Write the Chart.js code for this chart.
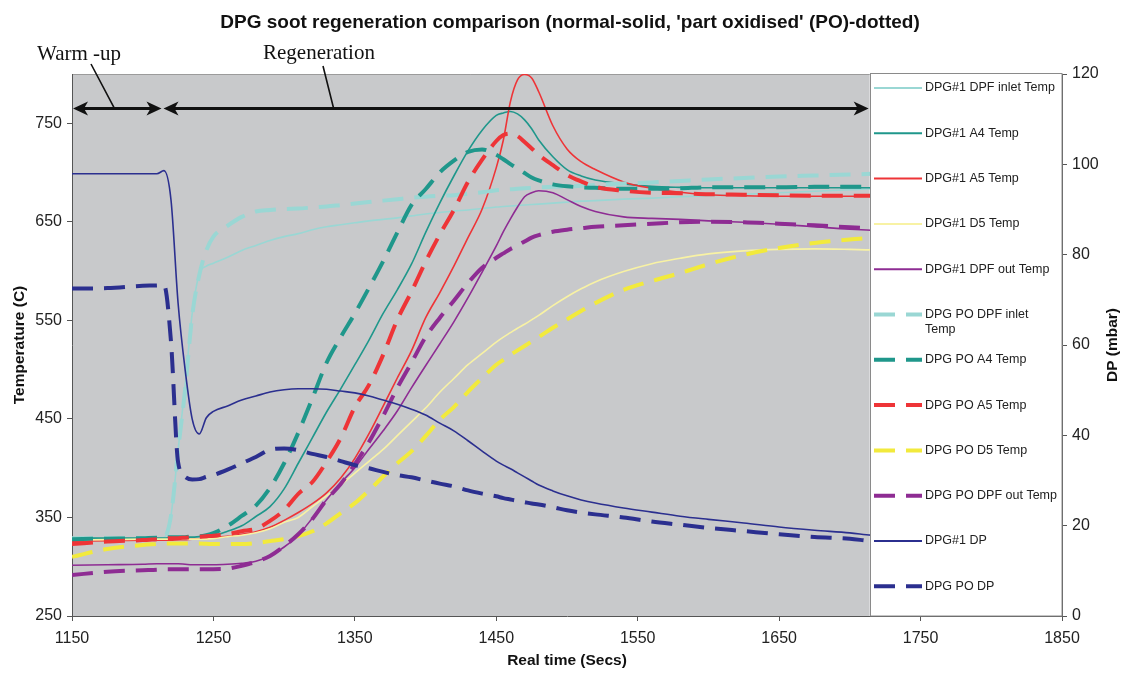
<!DOCTYPE html>
<html>
<head>
<meta charset="utf-8">
<script src="https://cdn.jsdelivr.net/npm/chart.js"></script>
<style>
html,body{margin:0;padding:0;background:#fff;}
#wrap{width:1121px;height:673px;position:relative;}
canvas{display:block;}
</style>
</head>
<body>
<div id="wrap"><canvas id="c" width="1121" height="673"></canvas></div>
<script>
// ---------- DATA ----------
const times = [1150,1175,1200,1210,1215,1220,1225,1230,1235,1240,
               1245,1250,1260,1270,1280,1290,1300,1310,1320,1330,
               1340,1350,1360,1370,1380,1390,1400,1410,1420,1430,
               1440,1450,1455,1460,1465,1470,1475,1480,1490,1500,
               1510,1520,1540,1560,1580,1600,1625,1650,1675,1700,
               1715,1850];

const dpg1InletTemp = [329,329,329,329,329.5,352,418,484,557,597,
                       605,608,614,621,626,631,635,638,642,645,
                       647,649,651,652.5,654,656,658,659.5,661,662,
                       663.5,665,665.5,666,666.5,667,667.5,668,669,670,
                       671,671.5,673,674,675.5,676.5,678,679.5,681,682.5,
                       683.5,686];
const dpg1A4Temp = [329,329,329,329,329,329.5,330,330,330,330.5,
                    331,331.5,336,341.5,351,361,379,405,431,457,
                    480.5,505,530,557,581,607,639,669,696.5,722,
                    743,758,760.5,762,759.5,753.5,744.5,733,716,703,
                    696.5,692.5,688.5,686,685,684.5,684.5,684.5,684.5,684.5,
                    684.5,686.5];
const dpg1A5Temp = [326,326.5,327,327,327,327,327.5,327.5,328,328,
                    328.5,329.5,331,333,335.5,340,347,355,364,375,
                    390,410,435,463,491.5,519,552.5,578,605,634,
                    663,705,733,772,794,799.5,796,782,747.5,724,
                    711,703,690.5,684,680,677.5,676.5,676,676,676,
                    676,676.5];
const dpg1D5Temp = [327,327.5,328,328,328,328,328,328,328,328,
                    328,328.5,330.5,332,334.5,338.5,345,350,361,372,
                    383,395,407,419,433,447,461,477,491,505,
                    516.5,528,533,537.5,542,546,550.5,555,565,574,
                    582,589,599.5,607.5,613,617.5,620.5,622,622.5,622,
                    621.5,622.5];
const dpg1OutTemp = [301.5,302,302.5,303,303,303,303,302.5,302,302,
                     302,302,302.5,303.5,305.5,311,320,332,349.5,368,
                     385,400.5,419.5,438,458,481.5,504,526,548.5,573,
                     599,625.5,640,653,665,675.5,679.5,681.5,679.5,672.5,
                     665.5,660.5,655,653.5,652.5,651,649.5,647.5,645,642.5,
                     641.5,639];
const poInletTemp = [329,329,329,329,329.5,352,418,480,555,596,
                     621,635,646,655,660.5,662,663,663.5,664.5,665.5,
                     667,668.5,670,671.5,673,674.5,675.5,676.5,677,678.5,
                     680,682,682.5,683,683.5,684,684.5,685,685.5,686,
                     686.5,687.5,689,690,691.5,693,694.5,696,697,698,
                     698.7,706];
const poA4Temp = [328,328.5,329,329.5,329.5,330,330,330,331,331,
                  332,334,341.5,351.5,362,380,405,436,471,507,
                  533,557,583,610,639,667,683,700,712,721,
                  723.5,718,713.5,708.5,704,699.5,695,692,688,686,
                  685,684.5,683.5,683.5,684,685,685,685,685.5,685.5,
                  685.5,689];
const poA5Temp = [323,325.5,327,328,328.5,329,329,329.5,330,330.5,
                  331,331.5,333,336,338.5,346.5,357.5,374,386,406.5,
                  430.5,462,484.5,515,550.5,579,609.5,637,662,690.5,
                  713,732,738,739.5,737,731,724.5,718,707.5,697.7,
                  691,685.5,681.5,679.5,679,678,677.5,677,676.5,676.5,
                  676.5,676.5];
const poD5Temp = [310,318,322,323,323.5,323.5,323.5,323.5,323.5,323.5,
                  323.3,323,323,323,324,326,328,331,336,344,
                  354.5,364.5,377.5,391.5,405,417,432.5,449,462,477.5,
                  491.5,505,510,515,519.5,524,528.5,533,542.5,551,
                  559.5,567.5,581,590,598,607,616.5,623.5,628.5,632,
                  633.5,632];
const poOutTemp = [291.5,295,296.5,297,297.5,297.5,297.5,297.5,297.5,297.5,
                   297.5,297.5,298,301,305,311,321,333,348.5,368,
                   384,404,426.5,453,481.5,507,533,552.5,570,588,
                   603.5,613.5,618,622.5,626,630,634,636.5,640,642,
                   643.5,645,646.5,648,649.5,650,649.5,648,646.5,644.5,
                   643.5,637];
const dpg1DP = [97.9,97.9,97.9,97.9,98.6,92.1,69.3,54.5,43.6,40.3,
                43.9,45.3,46.5,47.8,48.7,49.6,50.1,50.3,50.3,50.2,
                49.8,49.4,48.7,47.8,46.9,45.8,44.5,42.7,41.0,38.8,
                36.5,34.3,33.4,32.6,31.7,30.8,29.9,29.0,27.7,26.6,
                25.7,25.0,23.9,23.0,22.1,21.4,20.6,19.7,19.0,18.4,
                17.9,15.2];
const poDP = [72.5,72.6,73.1,73.2,73.3,60.7,34.1,30.8,30.2,30.3,
              30.8,31.2,32.4,33.8,35.2,36.8,37.1,36.7,35.9,35.2,
              34.3,33.4,32.7,31.9,31.2,30.7,30.0,29.3,28.7,27.8,
              27.1,26.5,26.1,25.8,25.5,25.2,24.9,24.7,24.1,23.4,
              22.9,22.5,21.8,20.9,20.2,19.5,18.8,18.1,17.5,17.1,
              16.6,15.0];

const seriesNames = ['DPG#1 DPF inlet Temp','DPG#1 A4 Temp','DPG#1 A5 Temp','DPG#1 D5 Temp','DPG#1 DPF out Temp',
                     'DPG PO DPF inlet Temp','DPG PO A4 Temp','DPG PO A5 Temp','DPG PO D5 Temp','DPG PO DPF out Temp',
                     'DPG#1 DP','DPG PO DP'];
const legendLines = [['DPG#1 DPF inlet Temp'],['DPG#1 A4 Temp'],['DPG#1 A5 Temp'],['DPG#1 D5 Temp'],['DPG#1 DPF out Temp'],
                     ['DPG PO DPF inlet','Temp'],['DPG PO A4 Temp'],['DPG PO A5 Temp'],['DPG PO D5 Temp'],['DPG PO DPF out Temp'],
                     ['DPG#1 DP'],['DPG PO DP']];
const timeTicks = [1150,1250,1350,1450,1550,1650,1750,1850];
const tempTicks = [250,350,450,550,650,750];
const dpTicks = [0,20,40,60,80,100,120];

// annotation values (time / temperature units)
const warmUpStart = 1150, regenStart = 1214, regenEnd = 1714, arrowTemp = 765;
const legendStartTime = 1714;

// ---------- STYLE ----------
const FONT = "'Liberation Sans', Arial, sans-serif";
const SERIF = "'Liberation Serif', 'Times New Roman', serif";
const AXIS_COLOR = '#555555';
const PLOT_BG = '#c8c9cb';
const DASH = [21, 11];
const seriesData = [dpg1InletTemp,dpg1A4Temp,dpg1A5Temp,dpg1D5Temp,dpg1OutTemp,
                    poInletTemp,poA4Temp,poA5Temp,poD5Temp,poOutTemp,dpg1DP,poDP];
const seriesColors = ['#9ad7d4','#1f978b','#ee3437','#f8f2a4','#8e2c93',
                      '#9ad7d4','#1f978b','#ee3437','#f2ea3c','#8e2c93',
                      '#2b2f8f','#2b2f8f'];
const seriesDashed = [false,false,false,false,false,true,true,true,true,true,false,true];
const seriesAxis = ['y','y','y','y','y','y','y','y','y','y','y2','y2'];

const datasets = seriesData.map((arr, i) => ({
  label: seriesNames[i],
  data: times.map((t, k) => ({x: t, y: arr[k]})),
  yAxisID: seriesAxis[i],
  borderColor: seriesColors[i],
  backgroundColor: seriesColors[i],
  borderWidth: seriesDashed[i] ? 4 : 1.6,
  borderDash: seriesDashed[i] ? DASH : [],
  pointRadius: 0,
  fill: false,
  cubicInterpolationMode: 'monotone',
  order: seriesData.length - i
}));

function arrowHead(ctx, tipX, y, dir) {
  ctx.beginPath();
  ctx.moveTo(tipX, y);
  ctx.lineTo(tipX - dir * 15, y - 7);
  ctx.lineTo(tipX - dir * 11, y);
  ctx.lineTo(tipX - dir * 15, y + 7);
  ctx.closePath();
  ctx.fill();
}

const decor = {
  id: 'decor',
  beforeDraw(chart) {
    const {ctx, chartArea: a, scales} = chart;
    const gx = scales.x.getPixelForValue(legendStartTime);
    ctx.save();
    ctx.fillStyle = PLOT_BG;
    ctx.fillRect(a.left, a.top, gx - a.left, a.bottom - a.top);
    ctx.strokeStyle = '#9b9b9b';
    ctx.lineWidth = 1;
    ctx.beginPath();
    ctx.moveTo(a.left, a.top + 0.5);
    ctx.lineTo(gx, a.top + 0.5);
    ctx.stroke();
    ctx.restore();
  },
  afterDatasetsDraw(chart) {
    const {ctx, chartArea: a, scales} = chart;
    const xs = scales.x, ys = scales.y;
    ctx.save();
    // legend box
    const lx = Math.round(xs.getPixelForValue(legendStartTime));
    ctx.fillStyle = '#ffffff';
    ctx.fillRect(lx, a.top - 1, a.right - lx, a.bottom - a.top + 1);
    ctx.strokeStyle = '#8a8a8a';
    ctx.lineWidth = 1;
    ctx.strokeRect(lx + 0.5, a.top - 0.5, a.right - lx - 0.5, a.bottom - a.top + 0.5);
    ctx.font = '12.5px ' + FONT;
    ctx.textBaseline = 'middle';
    ctx.textAlign = 'left';
    for (let i = 0; i < seriesNames.length; i++) {
      const y = a.top + 14 + i * 45.3;
      ctx.save();
      ctx.strokeStyle = seriesColors[i];
      ctx.lineWidth = seriesDashed[i] ? 4 : 2;
      ctx.setLineDash(seriesDashed[i] ? DASH : []);
      ctx.beginPath();
      ctx.moveTo(lx + 4, y);
      ctx.lineTo(lx + 52, y);
      ctx.stroke();
      ctx.restore();
      ctx.fillStyle = '#222';
      legendLines[i].forEach((txt, j) => ctx.fillText(txt, lx + 55, y + j * 15));
    }
    // arrows
    const ay = ys.getPixelForValue(arrowTemp);
    const x0 = xs.getPixelForValue(warmUpStart) + 1;
    const x1 = xs.getPixelForValue(regenStart);
    const x2 = xs.getPixelForValue(regenEnd) - 1;
    ctx.strokeStyle = '#111';
    ctx.fillStyle = '#111';
    ctx.lineWidth = 3;
    ctx.beginPath();
    ctx.moveTo(x0 + 9, ay); ctx.lineTo(x1 - 10, ay);
    ctx.moveTo(x1 + 11, ay); ctx.lineTo(x2 - 9, ay);
    ctx.stroke();
    arrowHead(ctx, x0, ay, -1);
    arrowHead(ctx, x1 - 1, ay, 1);
    arrowHead(ctx, x1 + 1, ay, -1);
    arrowHead(ctx, x2, ay, 1);
    // leader lines
    ctx.lineWidth = 1.6;
    ctx.beginPath();
    ctx.moveTo(91, 64); ctx.lineTo(xs.getPixelForValue(1180), ay);
    ctx.moveTo(323, 66); ctx.lineTo(xs.getPixelForValue(1335), ay);
    ctx.stroke();
    // annotation text
    ctx.font = '21px ' + SERIF;
    ctx.textBaseline = 'alphabetic';
    ctx.fillText('Warm -up', 37, 60);
    ctx.fillText('Regeneration', 263, 59);
    // chart title
    ctx.font = 'bold 19px ' + FONT;
    ctx.textAlign = 'center';
    ctx.textBaseline = 'middle';
    ctx.fillText("DPG soot regeneration comparison (normal-solid, 'part oxidised' (PO)-dotted)", 570, 23);
    // right axis title (reads bottom to top)
    ctx.font = 'bold 15.5px ' + FONT;
    ctx.translate(1113, (a.top + a.bottom) / 2);
    ctx.rotate(-Math.PI / 2);
    ctx.fillText('DP (mbar)', 0, 0);
    ctx.restore();
  }
};

const tickFont = {family: FONT, size: 16};
const titleFont = {family: FONT, size: 15.5, weight: 'bold'};
const plain = v => String(v);

new Chart(document.getElementById('c'), {
  type: 'line',
  data: {datasets},
  options: {
    responsive: false,
    devicePixelRatio: 1,
    animation: false,
    layout: {padding: {top: 74, left: 0, right: 0, bottom: 0}},
    plugins: {legend: {display: false}, title: {display: false}, tooltip: {enabled: false}},
    scales: {
      x: {
        type: 'linear', min: 1150, max: 1850,
        afterBuildTicks: s => { s.ticks = timeTicks.map(v => ({value: v})); },
        afterFit: s => { s.height = 57; },
        grid: {drawOnChartArea: false, drawTicks: true, tickLength: 5, color: AXIS_COLOR},
        border: {display: true, color: AXIS_COLOR, width: 1},
        ticks: {font: tickFont, color: '#222', padding: 8, maxRotation: 0, autoSkip: false, callback: plain},
        title: {display: true, text: 'Real time (Secs)', font: titleFont, color: '#111', padding: {top: 0, bottom: 3}}
      },
      y: {
        position: 'left', min: 250, max: 800,
        afterBuildTicks: s => { s.ticks = tempTicks.map(v => ({value: v})); },
        afterFit: s => { s.width = 72; },
        grid: {drawOnChartArea: false, drawTicks: true, tickLength: 5, color: AXIS_COLOR},
        border: {display: true, color: AXIS_COLOR, width: 1},
        ticks: {font: tickFont, color: '#222', padding: 5, callback: plain},
        title: {display: true, text: 'Temperature (C)', font: titleFont, color: '#111', padding: {top: 10, bottom: 0}}
      },
      y2: {
        position: 'right', min: 0, max: 120,
        afterBuildTicks: s => { s.ticks = dpTicks.map(v => ({value: v})); },
        afterFit: s => { s.width = 59; },
        grid: {drawOnChartArea: false, drawTicks: true, tickLength: 5, color: AXIS_COLOR},
        border: {display: true, color: AXIS_COLOR, width: 1},
        ticks: {font: tickFont, color: '#222', padding: 5, callback: plain}
      }
    }
  },
  plugins: [decor]
});
</script>
</body>
</html>
